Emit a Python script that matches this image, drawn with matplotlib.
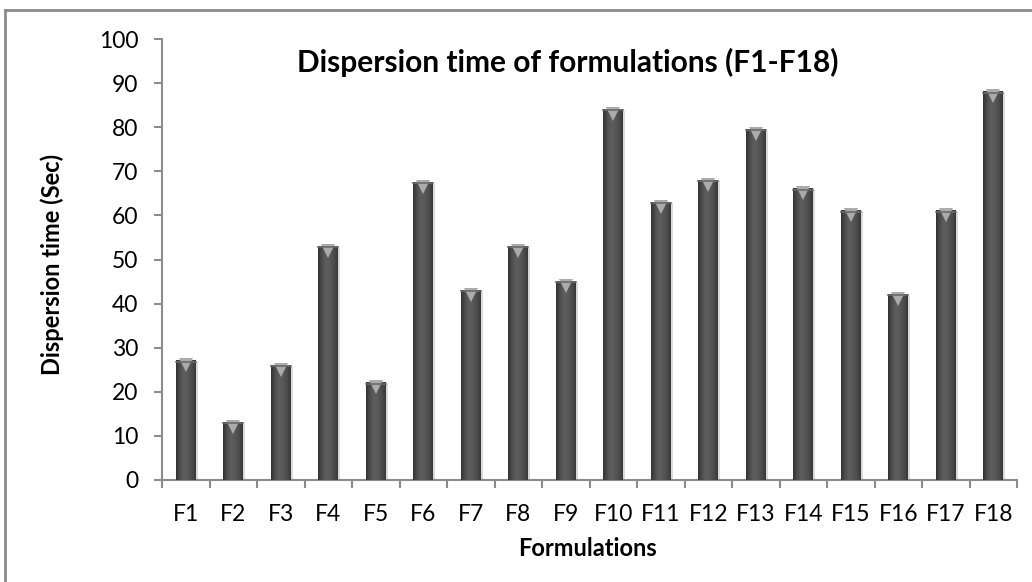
import numpy as np
import matplotlib
matplotlib.use('Agg')
from matplotlib import pyplot as plt
from matplotlib.patches import Rectangle
from matplotlib.lines import Line2D
from matplotlib.colors import LinearSegmentedColormap

plt.rcParams['font.family'] = ['Lato', 'DejaVu Sans']

formulations = ['F%d' % i for i in range(1, 19)]
dispersion_time = [27, 13, 26, 53, 22, 67.5, 43, 53, 45, 84, 63, 68, 79.5, 66, 61, 42, 61, 88]

axis_grey = '#8c8c8c'
bar_cmap = LinearSegmentedColormap.from_list(
    'bevel', ['#333333', '#4d4d4d', '#5e5e5e', '#585858', '#4d4d4d', '#383838'])

W, H = 1032, 582
fig = plt.figure(figsize=(W / 100, H / 100), dpi=100)
ax = fig.add_axes([162 / W, 1 - 480 / H, 855 / W, 441 / H])

x = np.arange(len(formulations))
width = 0.42
bars = ax.bar(x, dispersion_time, width=width, color='#4d4d4d', zorder=2)

# horizontal shading across each bar plus a light notch at the top
grad = np.linspace(0, 1, 64).reshape(1, -1)
for rect in bars:
    x0 = rect.get_x()
    w = rect.get_width()
    h = rect.get_height()
    ax.imshow(grad, cmap=bar_cmap, aspect='auto', zorder=3,
              extent=[x0, x0 + w, 0, h])
    # faint drop shadow on the right
    ax.add_patch(Rectangle((x0 + w, 0), 0.04, h - 0.3, color='#dadada', zorder=1, lw=0))
    ax.plot(x0 + w / 2, h - 1.0, marker='v', markersize=10,
            color='#ababab', markeredgewidth=0, zorder=4)
    ax.plot([x0, x0 + w], [h - 0.15, h - 0.15], color='#6a6a6a', lw=1.2, zorder=4)

ax.set_xlim(-0.5, len(formulations) - 0.5)
ax.set_ylim(0, 100)
ax.set_yticks(range(0, 101, 10))
ax.set_xticks(x)
ax.set_xticklabels(formulations)
ax.set_xticks(np.arange(-0.5, len(formulations), 1), minor=True)

for side in ['top', 'right']:
    ax.spines[side].set_visible(False)
for side in ['left', 'bottom']:
    ax.spines[side].set_color(axis_grey)
    ax.spines[side].set_linewidth(1.5)

ax.tick_params(axis='y', direction='out', length=6, width=1.5, color=axis_grey,
               labelsize=16.5, pad=11)
ax.tick_params(axis='x', which='major', length=0, labelsize=16.5, pad=17)
ax.tick_params(axis='x', which='minor', direction='out', length=6, width=1.5,
               color=axis_grey)

fig.text(52 / W, 1 - 264 / H, 'Dispersion time (Sec)', rotation=90, ha='center',
         va='center', fontsize=17, fontweight='bold')
fig.text(588 / W, 1 - 548 / H, 'Formulations', ha='center', va='center',
         fontsize=17, fontweight='bold')
fig.text(568 / W, 1 - 62 / H, 'Dispersion time of formulations (F1-F18)',
         ha='center', va='center', fontsize=21.5, fontweight='bold')

# chart area border, open at the right and bottom edges of the image
fig.add_artist(Line2D([5 / W, 5 / W], [0, 1 - 10 / H], color='#8a8a8a', lw=2))
fig.add_artist(Line2D([5 / W, 1], [1 - 10 / H, 1 - 10 / H], color='#8a8a8a', lw=2))

fig.savefig('out.png', dpi=100)
